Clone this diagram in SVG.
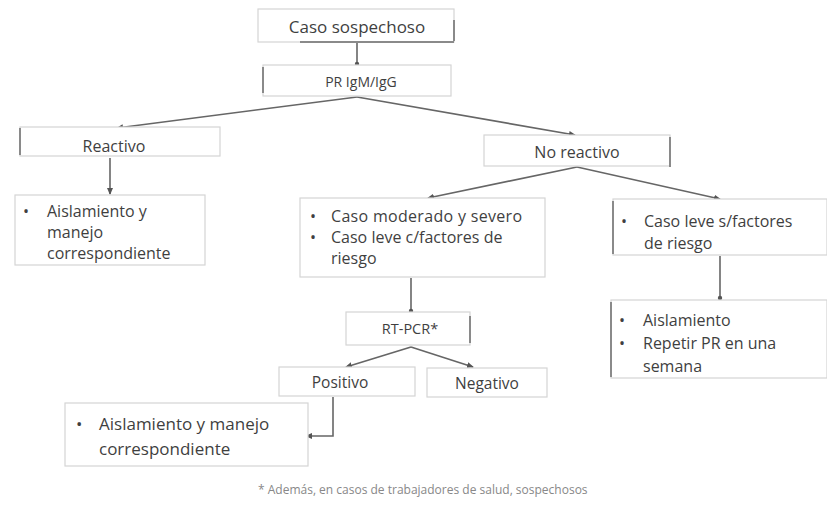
<svg xmlns="http://www.w3.org/2000/svg" width="827" height="515" viewBox="0 0 827 515">
<style>
.box{fill:#fff;stroke:#d4d4d4;stroke-width:1.2}
.edge{stroke:#8a8a8a;stroke-width:2}
.t{font-family:"Open Sans","Liberation Sans",sans-serif;fill:#3f3f3f}
.c{text-anchor:middle}
.b{font-size:16px}
.conn{fill:none;stroke:#666;stroke-width:1.6}
.fn{font-family:"Open Sans","Liberation Sans",sans-serif;fill:#888;font-size:12px}
</style>
<defs>
<marker id="ah" markerWidth="8" markerHeight="8" refX="6" refY="4" orient="auto" markerUnits="userSpaceOnUse">
<path d="M0,1 L7,4 L0,7 Z" fill="#555"/>
</marker>
<marker id="dot" markerWidth="6" markerHeight="6" refX="3" refY="3" markerUnits="userSpaceOnUse">
<circle cx="3" cy="3" r="2.2" fill="#555"/>
</marker>
</defs>
<rect width="827" height="515" fill="#fff"/>

<g id="connectors">
<line class="conn" x1="357" y1="43" x2="357" y2="64" marker-end="url(#dot)"/>
<polyline class="conn" points="357,97 117,128" marker-end="url(#ah)"/>
<polyline class="conn" points="357,97 575,135" marker-end="url(#ah)"/>
<line class="conn" x1="110" y1="158" x2="110" y2="194" marker-end="url(#ah)"/>
<polyline class="conn" points="577,167 428,198" marker-end="url(#ah)"/>
<polyline class="conn" points="577,167 720,199" marker-end="url(#ah)"/>
<line class="conn" x1="720" y1="256" x2="720" y2="298" marker-end="url(#dot)"/>
<line class="conn" x1="411" y1="278" x2="411" y2="311" marker-end="url(#dot)"/>
<polyline class="conn" points="411,347 346,367" marker-end="url(#ah)"/>
<polyline class="conn" points="411,347 473,367" marker-end="url(#ah)"/>
<polyline class="conn" points="333,397 333,436 306,436" marker-end="url(#ah)"/>
</g>

<g id="n-caso">
<rect class="box" x="258" y="9" width="196" height="33"/>
<line class="edge" x1="454" y1="20" x2="454" y2="41"/>
<line class="edge" x1="300" y1="42" x2="454" y2="42" stroke-width="1.2"/>
<text class="t c" x="357" y="33" font-size="17">Caso sospechoso</text>
</g>

<g id="n-pr">
<rect class="box" x="263" y="65" width="188" height="31"/>
<line class="edge" x1="263" y1="67" x2="263" y2="93"/>
<text class="t c" x="361" y="87" font-size="14">PR IgM/IgG</text>
</g>

<g id="n-reactivo">
<rect class="box" x="20" y="127" width="200" height="29" stroke="#ececec"/>
<line class="edge" x1="20" y1="128" x2="20" y2="155" stroke="#bbb"/>
<text class="t c" x="114" y="152" font-size="16">Reactivo</text>
</g>

<g id="n-aisl1">
<rect class="box" x="15" y="195" width="190" height="70"/>
<text class="t b" x="23" y="217">•</text>
<text class="t b" x="47" y="217">Aislamiento y</text>
<text class="t b" x="47" y="238">manejo</text>
<text class="t b" x="47" y="259">correspondiente</text>
</g>

<g id="n-noreact">
<rect class="box" x="484" y="135" width="186" height="31"/>
<line class="edge" x1="670" y1="137" x2="670" y2="167"/>
<text class="t c" x="577" y="158" font-size="16">No reactivo</text>
</g>

<g id="n-moderado">
<rect class="box" x="300" y="198" width="245" height="79"/>
<text class="t b" x="310" y="222">•</text>
<text class="t b" x="331" y="222" textLength="191">Caso moderado y severo</text>
<text class="t b" x="310" y="243">•</text>
<text class="t b" x="331" y="243">Caso leve c/factores de</text>
<text class="t b" x="331" y="264">riesgo</text>
</g>

<g id="n-leve">
<rect class="box" x="613" y="199" width="214" height="56"/>
<line class="edge" x1="613" y1="201" x2="613" y2="254" stroke="#aaa" stroke-width="1.5"/>
<text class="t b" x="621" y="227">•</text>
<text class="t b" x="644" y="227">Caso leve s/factores</text>
<text class="t b" x="644" y="249">de riesgo</text>
</g>

<g id="n-aisl2">
<rect class="box" x="611" y="300" width="216" height="78"/>
<line class="edge" x1="611" y1="302" x2="611" y2="377" stroke="#aaa" stroke-width="1.5"/>
<text class="t b" x="619" y="326">•</text>
<text class="t b" x="643" y="326">Aislamiento</text>
<text class="t b" x="619" y="349">•</text>
<text class="t b" x="643" y="349">Repetir PR en una</text>
<text class="t b" x="643" y="372">semana</text>
</g>

<g id="n-rtpcr">
<rect class="box" x="346" y="312" width="124" height="33"/>
<line class="edge" x1="470" y1="316" x2="470" y2="343"/>
<text class="t c" x="410" y="334" font-size="14.5">RT-PCR*</text>
</g>

<g id="n-positivo">
<rect class="box" x="279" y="367" width="136" height="29"/>
<text class="t c" x="340" y="388" font-size="15.5">Positivo</text>
</g>

<g id="n-negativo">
<rect class="box" x="427" y="368" width="120" height="29"/>
<text class="t c" x="487" y="389" font-size="15.5">Negativo</text>
</g>

<g id="n-aisl3">
<rect class="box" x="65" y="403" width="243" height="63"/>
<text class="t" x="76" y="430" font-size="17">•</text>
<text class="t" x="99" y="430" font-size="17">Aislamiento y manejo</text>
<text class="t" x="99" y="455" font-size="17">correspondiente</text>
</g>

<text class="fn" x="258" y="494">* Además, en casos de trabajadores de salud, sospechosos</text>
</svg>
